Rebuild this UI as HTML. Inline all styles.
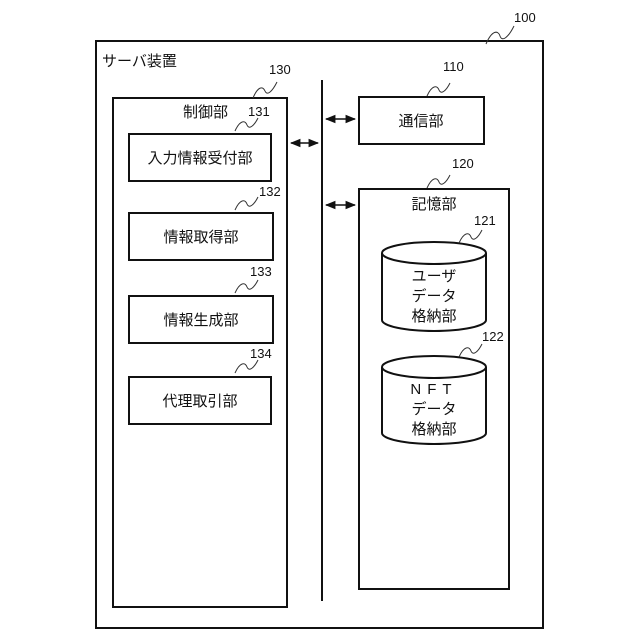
<!DOCTYPE html>
<html><head><meta charset="utf-8"><style>body{margin:0;background:#fff}svg{display:block}text{font-family:"Liberation Sans","Noto Sans CJK JP",sans-serif;fill:#111}</style></head><body>
<svg width="640" height="640" viewBox="0 0 640 640" xmlns="http://www.w3.org/2000/svg">
<defs><marker id="a" viewBox="0 0 10 10" refX="9" refY="5" markerWidth="7" markerHeight="7" orient="auto-start-reverse"><path d="M0,1 L10,5 L0,9 z" fill="#111"/></marker></defs>
<g fill="none" stroke="#111" stroke-width="2">
<rect x="96" y="41" width="447" height="587"/>
<rect x="113" y="98" width="174" height="509"/>
<rect x="129" y="134" width="142" height="47"/>
<rect x="129" y="213" width="144" height="47"/>
<rect x="129" y="296" width="144" height="47"/>
<rect x="129" y="377" width="142" height="47"/>
<rect x="359" y="97" width="125" height="47"/>
<rect x="359" y="189" width="150" height="400"/>
<line x1="322" y1="80" x2="322" y2="601"/>
<line x1="326" y1="119" x2="355" y2="119" marker-start="url(#a)" marker-end="url(#a)" stroke-width="1.5"/>
<line x1="291" y1="143" x2="318" y2="143" marker-start="url(#a)" marker-end="url(#a)" stroke-width="1.5"/>
<line x1="326" y1="205" x2="355" y2="205" marker-start="url(#a)" marker-end="url(#a)" stroke-width="1.5"/>
<path d="M382,253 V320 A52,11 0 0 0 486,320 V253"/><ellipse cx="434" cy="253" rx="52" ry="11"/>
<path d="M382,367 V433 A52,11 0 0 0 486,433 V367"/><ellipse cx="434" cy="367" rx="52" ry="11"/>
</g>
<g fill="none" stroke="#333" stroke-width="1">
<path d="M486,44 C492,30 498,30 500,36 C502,42 508,38 514,26"/>
<path d="M253,98 C258,86 263,86 265,91 C267,96 272,92 277,82"/>
<path d="M235,131 C240,120 245,120 247,125 C249,130 254,126 258,118"/>
<path d="M235,210 C240,199 245,199 247,204 C249,209 254,205 258,197"/>
<path d="M235,293 C240,282 245,282 247,287 C249,292 254,288 258,280"/>
<path d="M235,373 C240,362 245,362 247,367 C249,372 254,368 258,360"/>
<path d="M427,96 C432,85 437,85 439,90 C441,95 446,91 450,83"/>
<path d="M427,188 C432,177 437,177 439,182 C441,187 446,183 450,175"/>
<path d="M459,243 C464,232 469,232 471,237 C473,242 478,238 482,230"/>
<path d="M459,357 C464,346 469,346 471,351 C473,356 478,352 482,344"/>
</g>
<g font-size="15">
<text x="102" y="66">サーバ装置</text>
<text x="183" y="117">制御部</text>
<text x="200" y="163" text-anchor="middle">入力情報受付部</text>
<text x="201" y="242" text-anchor="middle">情報取得部</text>
<text x="201" y="325" text-anchor="middle">情報生成部</text>
<text x="200" y="406" text-anchor="middle">代理取引部</text>
<text x="421" y="126" text-anchor="middle">通信部</text>
<text x="434" y="209" text-anchor="middle">記憶部</text>
<text x="434" y="281" text-anchor="middle">ユーザ</text>
<text x="434" y="301" text-anchor="middle">データ</text>
<text x="434" y="321" text-anchor="middle">格納部</text>
<text x="434" y="394" text-anchor="middle" letter-spacing="6">NFT</text>
<text x="434" y="414" text-anchor="middle">データ</text>
<text x="434" y="434" text-anchor="middle">格納部</text>
</g>
<g font-size="13">
<text x="514" y="22">100</text>
<text x="269" y="74">130</text>
<text x="248" y="116">131</text>
<text x="259" y="196">132</text>
<text x="250" y="276">133</text>
<text x="250" y="358">134</text>
<text x="443" y="71">110</text>
<text x="452" y="168">120</text>
<text x="474" y="225">121</text>
<text x="482" y="341">122</text>
</g>
</svg>
</body></html>
